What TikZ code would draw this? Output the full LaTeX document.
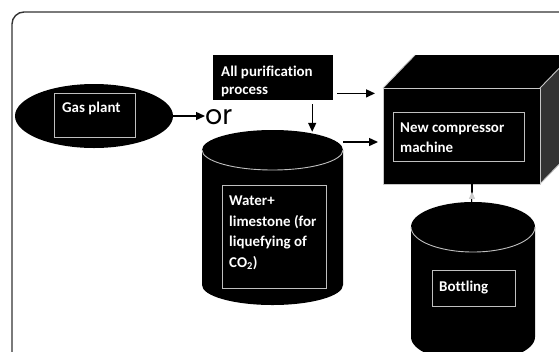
\documentclass[tikz,border=0pt]{standalone}
\usepackage{fontspec}
\setmainfont{Carlito}[Ligatures=NoCommon]
\newfontfamily\orfont{Poppins}
\usetikzlibrary{shapes.geometric,arrows.meta,calc}
\begin{document}
\begin{tikzpicture}[x=1bp,y=-1bp,
  lbl/.style={text=white, font=\fontsize{15}{20.5}\selectfont\bfseries, align=left, inner sep=0, anchor=base west},
  inbox/.style={draw=black!25, line width=0.9bp, anchor=north west, inner sep=0},
  arr/.style={draw=black, line width=1.4bp, -{Triangle[length=9bp,width=8bp]}},
  cubeedge/.style={draw=black!22, line width=0.9bp, line join=round}]
\useasboundingbox (0,0) rectangle (559,351);
\begin{scope}
\clip (0,0) rectangle (559,351);
% frame
\draw[black!80, line width=1.4bp, rounded corners=12bp] (12,12) rectangle (640,440);

% gas plant
\node[ellipse, fill=black, inner sep=0, minimum width=158bp, minimum height=64bp] (gas) at (94,116) {};
\node[inbox, minimum width=81bp, minimum height=44bp] (gasbox) at (54,93) {};
\node[lbl] (gaslbl) at (62,112.3) {Gas plant};
\node[font=\orfont\fontsize{27}{27}\selectfont, anchor=base west, inner sep=0] (or) at (205,124) {or};
\draw[arr] (gas.east) -- (gas.east -| or.west);

% purification
\node[fill=black, anchor=north west, inner sep=0, minimum width=120bp, minimum height=45bp] (purif) at (213,55) {};
\node[lbl, font=\fontsize{15}{17.6}\selectfont\bfseries] (purlbl) at (221,94.3) {All purification\\process};

% cylinder 1
\fill[black] (202,150) -- (202,285) arc[start angle=180, end angle=0, x radius=70.5, y radius=20] -- (343,150) -- cycle;
\node[ellipse, fill=black, inner sep=0, minimum width=141bp, minimum height=40bp] (cyltop) at (272.5,150) {};
\draw[black!25, line width=0.9bp] (202,150) arc[start angle=180, end angle=0, x radius=70.5, y radius=20];
\node[inbox, minimum width=104bp, minimum height=103bp] (cylbox) at (222,185) {};
\node[lbl] (cyllbl) at (229,267) {Water+\\limestone (for\\liquefying of\\CO\textsubscript{2})};

% cube
\fill[black] (383,88) -- (415,55) -- (572,55) -- (540,88) -- cycle;
\fill[black!80] (540,88) -- (572,55) -- (572,151) -- (540,184) -- cycle;
\draw[cubeedge] (383,88) -- (415,55);
\draw[cubeedge] (540,88) -- (572,55) -- (572,151) -- (540,184);
\node[fill=black, cubeedge, anchor=north west, inner sep=0, minimum width=157bp, minimum height=96bp] (cube) at (383,88) {};
\node[inbox, minimum width=131bp, minimum height=49bp] (cubebox) at (393,112) {};
\node[lbl, font=\fontsize{15}{20.4}\selectfont\bfseries] (cubelbl) at (400,152.7) {New compressor\\machine};

% cylinder 2
\fill[black] (411,227) -- (411,337) arc[start angle=180, end angle=0, x radius=62, y radius=25] -- (535,227) -- cycle;
\node[ellipse, fill=black, inner sep=0, minimum width=124bp, minimum height=50bp] (botop) at (473,227) {};
\draw[black!25, line width=0.9bp] (411,227) arc[start angle=180, end angle=0, x radius=62, y radius=25];
\node[inbox, minimum width=83bp, minimum height=36bp] (botbox) at (432,270) {};
\node[lbl] (botlbl) at (439,291) {Bottling};

% connectors
\coordinate (p1) at ([shift={(4,-7)}]purif.south east);
\draw[arr, shorten >=8bp] (p1) -- (p1 -| cube.west);
\coordinate (p2) at ([shift={(39,4)}]purif.south);
\draw[arr, shorten >=-2bp] (p2) -- (p2 |- cyltop.north);
\coordinate (p3) at ([yshift=8bp]cyltop.east);
\draw[arr, shorten >=5bp] (p3) -- (p3 -| cube.west);
\coordinate (p4) at ([xshift=-1bp]botop.north |- cube.south);
\draw[black, line width=1.4bp] ([yshift=0.5bp]p4) -- (p4 |- botop.north);
\draw[black!20, line width=0.9bp, -{Triangle[length=7bp,width=6bp]}] (p4 |- botop.north) -- ([yshift=10bp]p4 |- botop.north);
\end{scope}
\end{tikzpicture}
\end{document}
